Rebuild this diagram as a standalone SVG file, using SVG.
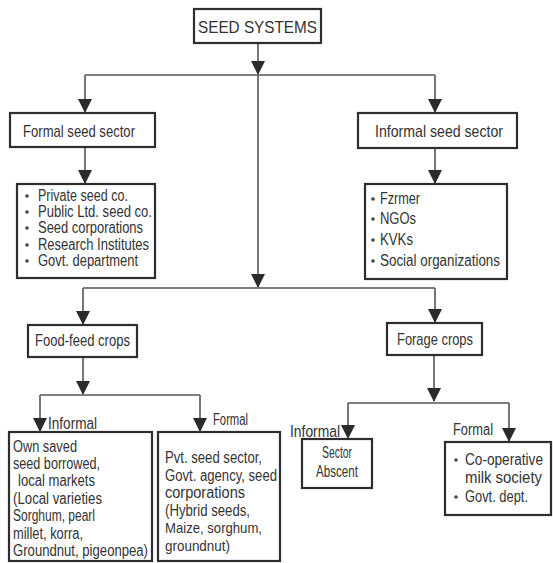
<svg xmlns="http://www.w3.org/2000/svg" width="553" height="563" viewBox="0 0 553 563">
  <defs>
    <marker id="arrow" markerUnits="userSpaceOnUse" markerWidth="14" markerHeight="14" refX="13" refY="7" orient="auto">
      <path d="M0,0 L14,7 L0,14 z" fill="#2b2b2b"/>
    </marker>
    <style>
      .box { fill: #ffffff; stroke: #2e2e2e; stroke-width: 2.2; }
      .wire { fill: none; stroke: #555555; stroke-width: 1.6; }
      .lbl { font-family: "Liberation Sans Narrow", "Liberation Sans", Arial, sans-serif; fill: #333333; font-size: 17px; }
      .sm { font-size: 16px; }
      .xs { font-size: 15px; }
      .mid { text-anchor: middle; }
      .dot { fill: #444444; }
    </style>
  </defs>
  <rect width="553" height="563" fill="#ffffff"/>

  <!-- connectors -->
  <g id="connectors">
    <path class="wire" d="M258,43 V74" marker-end="url(#arrow)"/>
    <path class="wire" d="M85,75 H435"/>
    <path class="wire" d="M85,75 V112" marker-end="url(#arrow)"/>
    <path class="wire" d="M435,75 V112" marker-end="url(#arrow)"/>
    <path class="wire" d="M258,75 V287" marker-end="url(#arrow)"/>
    <path class="wire" d="M85,147 V183" marker-end="url(#arrow)"/>
    <path class="wire" d="M435,148 V183" marker-end="url(#arrow)"/>
    <path class="wire" d="M83,288 H435"/>
    <path class="wire" d="M83,288 V324" marker-end="url(#arrow)"/>
    <path class="wire" d="M435,288 V322" marker-end="url(#arrow)"/>
    <path class="wire" d="M83,357 V394" marker-end="url(#arrow)"/>
    <path class="wire" d="M40,395 H200"/>
    <path class="wire" d="M40,395 V431" marker-end="url(#arrow)"/>
    <path class="wire" d="M200,395 V431" marker-end="url(#arrow)"/>
    <path class="wire" d="M434,355 V401" marker-end="url(#arrow)"/>
    <path class="wire" d="M348,403 H509"/>
    <path class="wire" d="M348,403 V438" marker-end="url(#arrow)"/>
    <path class="wire" d="M509,403 V441" marker-end="url(#arrow)"/>
  </g>

  <!-- root -->
  <g id="seed-systems">
    <rect class="box" x="194" y="9" width="127" height="34"/>
    <text class="lbl" x="198" y="33" font-size="18" textLength="119" lengthAdjust="spacingAndGlyphs">SEED SYSTEMS</text>
  </g>

  <!-- formal branch -->
  <g id="formal-seed-sector">
    <rect class="box" x="10" y="113" width="145" height="34"/>
    <text class="lbl" x="23" y="137" textLength="112" lengthAdjust="spacingAndGlyphs">Formal seed sector</text>
  </g>
  <g id="formal-members">
    <rect class="box" x="17" y="184" width="138" height="94"/>
    <circle class="dot" cx="27" cy="196" r="1.8"/>
    <circle class="dot" cx="27" cy="212" r="1.8"/>
    <circle class="dot" cx="27" cy="228" r="1.8"/>
    <circle class="dot" cx="27" cy="245" r="1.8"/>
    <circle class="dot" cx="27" cy="261" r="1.8"/>
    <text class="lbl sm" x="38" y="201" textLength="90" lengthAdjust="spacingAndGlyphs">Private seed co.</text>
    <text class="lbl sm" x="38" y="217" textLength="114" lengthAdjust="spacingAndGlyphs">Public Ltd. seed co.</text>
    <text class="lbl sm" x="38" y="233" textLength="105" lengthAdjust="spacingAndGlyphs">Seed corporations</text>
    <text class="lbl sm" x="38" y="250" textLength="111" lengthAdjust="spacingAndGlyphs">Research Institutes</text>
    <text class="lbl sm" x="38" y="266" textLength="100" lengthAdjust="spacingAndGlyphs">Govt. department</text>
  </g>

  <!-- informal branch -->
  <g id="informal-seed-sector">
    <rect class="box" x="358" y="113" width="159" height="35"/>
    <text class="lbl" x="375" y="137" textLength="128" lengthAdjust="spacingAndGlyphs">Informal seed sector</text>
  </g>
  <g id="informal-members">
    <rect class="box" x="365" y="184" width="142" height="95"/>
    <circle class="dot" cx="373" cy="199" r="1.8"/>
    <circle class="dot" cx="373" cy="219" r="1.8"/>
    <circle class="dot" cx="373" cy="240" r="1.8"/>
    <circle class="dot" cx="373" cy="261" r="1.8"/>
    <text class="lbl sm" x="380" y="204" textLength="40" lengthAdjust="spacingAndGlyphs">Fzrmer</text>
    <text class="lbl sm" x="380" y="224" textLength="36" lengthAdjust="spacingAndGlyphs">NGOs</text>
    <text class="lbl sm" x="380" y="245" textLength="33" lengthAdjust="spacingAndGlyphs">KVKs</text>
    <text class="lbl sm" x="380" y="266" textLength="120" lengthAdjust="spacingAndGlyphs">Social organizations</text>
  </g>

  <!-- food-feed crops -->
  <g id="food-feed-crops">
    <rect class="box" x="28" y="325" width="109" height="32"/>
    <text class="lbl" x="35" y="346" textLength="95" lengthAdjust="spacingAndGlyphs">Food-feed crops</text>
  </g>
  <g id="food-informal">
    <text class="lbl sm" x="48" y="429" textLength="49" lengthAdjust="spacingAndGlyphs">Informal</text>
    <rect class="box" x="9" y="432" width="143" height="129"/>
    <text class="lbl sm" x="13" y="452" textLength="64" lengthAdjust="spacingAndGlyphs">Own saved</text>
    <text class="lbl sm" x="13" y="469" textLength="87" lengthAdjust="spacingAndGlyphs">seed borrowed,</text>
    <text class="lbl sm" x="18" y="486" textLength="77" lengthAdjust="spacingAndGlyphs">local markets</text>
    <text class="lbl sm" x="13" y="504" textLength="89" lengthAdjust="spacingAndGlyphs">(Local varieties</text>
    <text class="lbl sm" x="13" y="521" textLength="82" lengthAdjust="spacingAndGlyphs">Sorghum, pearl</text>
    <text class="lbl sm" x="13" y="539" textLength="70" lengthAdjust="spacingAndGlyphs">millet, korra,</text>
    <text class="lbl sm" x="13" y="556" textLength="135" lengthAdjust="spacingAndGlyphs">Groundnut, pigeonpea)</text>
  </g>
  <g id="food-formal">
    <text class="lbl sm" x="213" y="425" textLength="35" lengthAdjust="spacingAndGlyphs">Formal</text>
    <rect class="box" x="158" y="432" width="122" height="129"/>
    <text class="lbl sm" x="165" y="463" textLength="97" lengthAdjust="spacingAndGlyphs">Pvt. seed sector,</text>
    <text class="lbl sm" x="165" y="481" textLength="112" lengthAdjust="spacingAndGlyphs">Govt. agency, seed</text>
    <text class="lbl sm" x="165" y="498" textLength="80" lengthAdjust="spacingAndGlyphs">corporations</text>
    <text class="lbl sm" x="165" y="516" textLength="85" lengthAdjust="spacingAndGlyphs">(Hybrid seeds,</text>
    <text class="lbl xs" x="165" y="533" textLength="97" lengthAdjust="spacingAndGlyphs">Maize, sorghum,</text>
    <text class="lbl xs" x="165" y="551" textLength="65" lengthAdjust="spacingAndGlyphs">groundnut)</text>
  </g>

  <!-- forage crops -->
  <g id="forage-crops">
    <rect class="box" x="387" y="323" width="95" height="32"/>
    <text class="lbl" x="397" y="345" textLength="76" lengthAdjust="spacingAndGlyphs">Forage crops</text>
  </g>
  <g id="forage-informal">
    <text class="lbl sm" x="290" y="437" textLength="50" lengthAdjust="spacingAndGlyphs">Informal</text>
    <rect class="box" x="302" y="439" width="70" height="49"/>
    <text class="lbl sm mid" x="337" y="458" textLength="30" lengthAdjust="spacingAndGlyphs">Sector</text>
    <text class="lbl sm mid" x="337" y="477" textLength="42" lengthAdjust="spacingAndGlyphs">Abscent</text>
  </g>
  <g id="forage-formal">
    <text class="lbl sm" x="453" y="435" textLength="40" lengthAdjust="spacingAndGlyphs">Formal</text>
    <rect class="box" x="445" y="442" width="106" height="73"/>
    <circle class="dot" cx="456" cy="460" r="1.8"/>
    <circle class="dot" cx="456" cy="497" r="1.8"/>
    <text class="lbl sm" x="465" y="465" textLength="78" lengthAdjust="spacingAndGlyphs">Co-operative</text>
    <text class="lbl sm" x="465" y="483" textLength="77" lengthAdjust="spacingAndGlyphs">milk society</text>
    <text class="lbl sm" x="465" y="502" textLength="63" lengthAdjust="spacingAndGlyphs">Govt. dept.</text>
  </g>
</svg>
